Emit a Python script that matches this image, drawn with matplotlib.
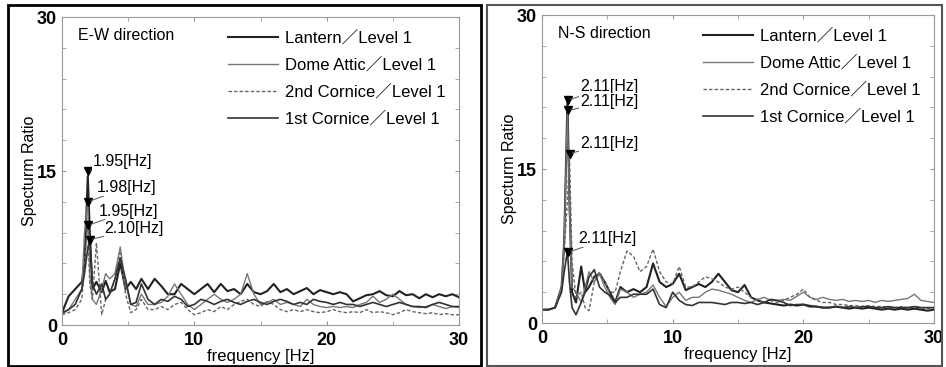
import matplotlib.pyplot as plt
from matplotlib.patches import Rectangle
import numpy as np

plt.rcParams['font.family'] = ['Liberation Sans', 'Noto Sans CJK JP']

# frequency grid [Hz]
freq = [0, 0.5, 1.0, 1.5, 1.7, 1.95, 2.1, 2.3, 2.6, 3.0, 3.3, 3.6, 4.0, 4.4, 4.8, 5.2, 5.6, 6.0,
        6.5, 7.0, 7.5, 8.0, 8.5, 9.0, 9.5, 10, 10.5, 11, 11.5, 12, 12.5, 13, 13.5, 14, 14.5, 15,
        15.5, 16, 16.5, 17, 17.5, 18, 18.5, 19, 19.5, 20, 20.5, 21, 21.5, 22, 22.5, 23, 23.5, 24,
        24.5, 25, 25.5, 26, 26.5, 27, 27.5, 28, 28.5, 29, 29.5, 30]

labels = ['Lantern／Level 1', 'Dome Attic／Level 1', '2nd Cornice／Level 1', '1st Cornice／Level 1']

# E-W direction
ew_lantern = [1.2, 2.8, 3.5, 4.2, 6.0, 14.5, 9.0, 3.5, 4.2, 3.2, 4.3, 3.2, 3.5, 6.0, 3.5, 4.2, 3.5, 4.5,
              3.5, 4.5, 3.8, 3.0, 3.0, 4.0, 3.5, 3.0, 3.5, 4.0, 3.2, 4.0, 3.3, 3.5, 3.0, 4.0, 3.2, 3.0,
              3.3, 4.0, 3.2, 3.5, 3.0, 3.3, 3.6, 3.0, 3.4, 3.2, 3.0, 3.2, 3.0, 2.3, 2.6, 2.9, 3.0, 3.3,
              2.9, 2.8, 3.3, 2.9, 3.0, 2.6, 3.0, 2.7, 3.0, 2.8, 3.0, 2.7]
ew_dome = [1.0, 1.5, 2.5, 3.5, 9.0, 12.0, 5.0, 2.5, 2.0, 3.5, 5.0, 4.5, 5.0, 7.6, 4.0, 2.0, 1.8, 3.0,
           2.0, 2.0, 2.2, 2.8, 4.0, 3.0, 2.0, 1.5, 2.0, 2.5, 3.0, 2.5, 2.2, 2.5, 3.0, 5.0, 3.0, 2.0,
           2.2, 2.5, 2.0, 2.2, 2.0, 1.8, 2.5, 2.0, 1.8, 1.7, 1.8, 1.7, 1.8, 1.7, 2.0, 2.2, 2.8, 2.2,
           2.5, 3.0, 2.5, 2.0, 1.8, 1.7, 1.8, 2.0, 1.8, 1.6, 1.8, 1.7]
ew_2nd = [1.0, 1.2, 1.5, 2.5, 6.0, 9.7, 4.0, 2.5, 8.0, 1.0, 2.5, 3.0, 4.5, 7.0, 3.0, 1.2, 1.5, 2.5,
          1.5, 1.5, 1.8, 1.5, 2.0, 2.2, 1.5, 1.0, 1.2, 1.5, 1.3, 1.8, 1.5, 2.0, 2.3, 2.5, 2.0, 1.8,
          2.3, 2.0, 1.5, 1.3, 1.5, 1.3, 1.5, 1.3, 1.2, 1.3, 1.5, 1.3, 1.2, 1.3, 1.2, 1.5, 1.2, 1.3,
          1.2, 1.0, 1.2, 1.5, 1.3, 1.2, 1.1, 1.2, 1.0, 1.1, 1.0, 1.0]
ew_1st = [1.2, 1.5, 2.0, 3.5, 5.0, 7.5, 8.3, 4.0, 3.0, 4.0, 2.5, 3.0, 4.5, 6.5, 4.5, 2.0, 2.2, 4.0,
          2.5, 2.0, 2.5, 2.3, 2.8, 2.5, 1.8, 2.0, 2.5, 2.3, 2.0, 2.3, 2.5, 2.2, 2.0, 2.3, 2.5, 2.2,
          2.0, 2.3, 2.5, 2.3, 2.0, 2.2, 2.0, 2.5, 2.3, 2.2, 2.0, 2.2, 2.0, 2.0, 1.8, 2.0, 2.2, 2.0,
          1.8, 2.0, 2.2, 2.0, 1.8, 1.8, 1.7, 2.0, 2.2, 2.0, 1.8, 1.8]
ew_peak_f = [1.95, 1.98, 1.95, 2.10]
ew_peak_v = [15.0, 12.0, 9.7, 8.3]
ew_peak_txt = ['1.95[Hz]', '1.98[Hz]', '1.95[Hz]', '2.10[Hz]']

# N-S direction
ns_lantern = [1.3, 1.3, 1.5, 3.5, 8.0, 21.7, 12.0, 3.0, 2.0, 5.5, 3.0, 3.5, 4.5, 4.8, 4.0, 3.0, 2.0, 3.5,
              3.0, 3.3, 3.0, 3.5, 5.8, 4.0, 3.5, 3.8, 4.8, 3.2, 3.5, 3.8, 3.5, 4.0, 4.8, 4.0, 3.2, 3.0,
              3.7, 2.5, 2.2, 2.0, 1.9, 1.8, 1.7, 1.8, 1.7, 1.8, 1.6, 1.6, 1.5, 1.5, 1.6, 1.5, 1.4, 1.5,
              1.4, 1.5, 1.4, 1.3, 1.4, 1.3, 1.4, 1.3, 1.4, 1.3, 1.2, 1.3]
ns_dome = [1.3, 1.3, 1.5, 3.5, 8.0, 20.7, 11.0, 3.5, 3.0, 2.0, 3.5, 5.0, 4.0, 4.8, 3.5, 2.5, 1.8, 3.3,
           3.0, 2.5, 2.8, 3.0, 3.7, 2.5, 1.6, 2.5, 3.0, 2.2, 2.5, 2.5, 3.0, 3.3, 3.2, 3.0, 2.8, 2.5,
           2.2, 2.0, 2.3, 2.5, 2.2, 2.2, 2.3, 2.2, 2.6, 3.0, 2.5, 2.3, 2.5, 2.3, 2.2, 2.3, 2.1, 2.2,
           2.1, 2.2, 2.0, 2.2, 2.1, 2.2, 2.3, 2.4, 2.8, 2.2, 2.1, 2.0]
ns_2nd = [1.3, 1.3, 1.5, 3.5, 7.0, 12.0, 16.5, 6.0, 2.5, 3.0, 1.5, 1.2, 4.0, 5.0, 4.0, 3.0, 3.0, 5.0,
          7.0, 6.5, 5.0, 5.5, 7.2, 5.0, 4.0, 3.8, 5.5, 3.5, 3.5, 4.0, 4.5, 4.3, 4.0, 3.5, 3.3, 3.5,
          3.0, 2.5, 2.3, 2.0, 2.2, 2.0, 2.2, 2.5, 2.8, 3.3, 2.5, 2.2, 2.0, 2.0, 1.8, 1.8, 1.7, 1.7,
          1.6, 1.7, 1.6, 1.6, 1.5, 1.5, 1.6, 1.5, 1.6, 1.5, 1.4, 1.4]
ns_1st = [1.3, 1.3, 1.5, 3.0, 5.0, 7.0, 4.0, 1.5, 0.8, 2.0, 3.0, 4.5, 5.2, 3.5, 3.0, 2.7, 2.0, 2.5,
          2.5, 2.8, 2.8, 2.8, 3.3, 1.8, 1.5, 3.0, 2.2, 1.8, 1.7, 2.0, 2.0, 2.0, 1.9, 1.8, 2.0, 2.0,
          1.9, 2.0, 1.8, 2.0, 2.3, 2.2, 2.0, 1.7, 1.8, 1.8, 1.7, 1.6, 1.5, 1.5, 1.6, 1.5, 1.6, 1.5,
          1.6, 1.6, 1.5, 1.5, 1.6, 1.5, 1.5, 1.5, 1.6, 1.5, 1.5, 1.5]
ns_peak_f = [1.97, 2.02, 2.11, 2.02]
ns_peak_v = [21.7, 20.7, 16.5, 6.9]
ns_peak_txt = ['2.11[Hz]', '2.11[Hz]', '2.11[Hz]', '2.11[Hz]']

styles = [dict(color='#222222', lw=1.5, ls='-'),
          dict(color='#777777', lw=1.0, ls='-'),
          dict(color='#666666', lw=1.0, ls=(0, (2.5, 1.5))),
          dict(color='#333333', lw=1.2, ls='-')]

fig = plt.figure(figsize=(9.46, 3.67), dpi=100)

# outer boxes
fig.add_artist(Rectangle((8 / 946, 1 / 367), 473 / 946, 361 / 367, transform=fig.transFigure,
                         fill=False, ec='black', lw=2))
fig.add_artist(Rectangle((487 / 946, 1 / 367), 455 / 946, 361 / 367, transform=fig.transFigure,
                         fill=False, ec='#555555', lw=1.5))


def panel(rect, series, title, pf, pv, ptxt, txt_pos):
    ax = fig.add_axes(rect)
    for ys, st in zip(series, styles):
        ax.plot(freq, ys, **st)
    ax.set_xlim(0, 30)
    ax.set_ylim(0, 30)
    ax.set_xticks([0, 10, 20, 30])
    ax.set_xticks([5, 15, 25], minor=True)
    ax.set_yticks([0, 15, 30])
    ax.set_yticks(np.arange(0, 31, 3), minor=True)
    ax.tick_params(which='both', direction='in', top=True, right=True, color='#999999',
                   labelsize=13, length=3)
    ax.tick_params(axis='x', pad=5)
    for lab in ax.get_xticklabels() + ax.get_yticklabels():
        lab.set_fontweight('bold')
    for s in ax.spines.values():
        s.set_color('#999999')
    ax.set_xlabel('frequency [Hz]', fontsize=12, labelpad=0)
    ax.set_ylabel('Specturm Ratio', fontsize=11.5, labelpad=0)
    ax.text(0.04, 0.94, title, transform=ax.transAxes, fontsize=11.5, va='center')
    ax.legend(labels, loc='upper right', frameon=False, fontsize=12, handlelength=3.0,
              handletextpad=0.4, labelspacing=0.68, borderaxespad=0.4)
    ax.plot(pf, pv, 'v', color='black', ms=6)
    for f, v, t, (tx, ty) in zip(pf, pv, ptxt, txt_pos):
        ax.annotate(t, xy=(f, v), xytext=(tx, ty), fontsize=11.5, va='center',
                    arrowprops=dict(arrowstyle='-', color='#555555', lw=0.7, shrinkA=0, shrinkB=2),
                    bbox=dict(boxstyle='square,pad=0.05', fc='white', ec='none'))
    return ax


panel([62 / 946, 1 - 325 / 367, 397 / 946, 308 / 367],
      [ew_lantern, ew_dome, ew_2nd, ew_1st], 'E-W direction',
      ew_peak_f, ew_peak_v, ew_peak_txt,
      [(2.3, 15.9), (2.6, 13.4), (2.8, 11.1), (3.2, 9.4)])
panel([542 / 946, 1 - 323 / 367, 392 / 946, 308 / 367],
      [ns_lantern, ns_dome, ns_2nd, ns_1st], 'N-S direction',
      ns_peak_f, ns_peak_v, ns_peak_txt,
      [(2.9, 23.0), (2.9, 21.6), (2.9, 17.5), (2.8, 8.2)])

fig.savefig('out.png', dpi=100)
